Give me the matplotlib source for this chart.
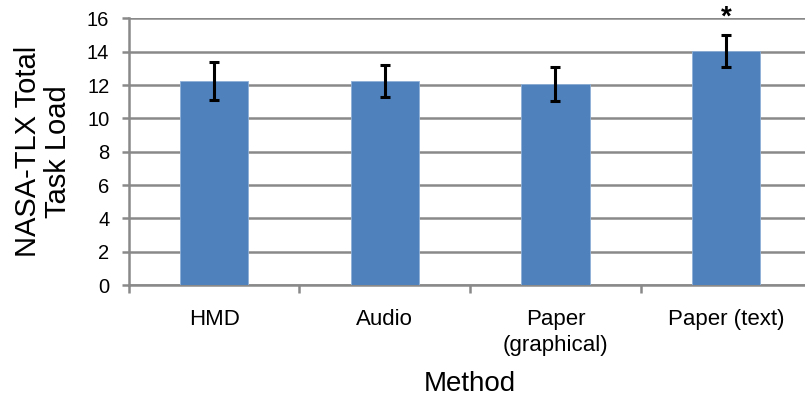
import matplotlib.pyplot as plt

plt.rcParams['font.family'] = ['Liberation Sans', 'DejaVu Sans']

methods = ['HMD', 'Audio', 'Paper\n(graphical)', 'Paper (text)']
task_load = [12.25, 12.25, 12.05, 14.05]
errors = [1.12, 0.95, 1.03, 0.98]
significant = [False, False, False, True]

grid_gray = '#898989'
bar_blue = '#4f81bd'

fig = plt.figure(figsize=(8.05, 4.01), dpi=100)
ax = fig.add_axes([0.160, 0.289, 0.848, 0.665])

x = range(len(methods))
ax.bar(x, task_load, width=0.4, color=bar_blue, edgecolor='#8fb0d8',
       linewidth=0.6, zorder=3)
ax.errorbar(x, task_load, yerr=errors, fmt='none', ecolor='black',
            elinewidth=2.2, capsize=3.5, capthick=2.2, zorder=4)

# significance marker above the bar
for xi, sig in zip(x, significant):
    if sig:
        ax.text(xi, 16.8, '*', ha='center', va='top', fontsize=20,
                fontweight='bold', clip_on=False)

ax.set_xlim(-0.5, 3.5)
ax.set_ylim(0, 16)
ax.set_yticks(range(0, 17, 2))
ax.yaxis.grid(True, color=grid_gray, linewidth=1.8, zorder=0)
ax.set_axisbelow(True)

# category labels sit between boundary ticks
ax.set_xticks([-0.5, 0.5, 1.5, 2.5, 3.5])
ax.set_xticklabels([])
ax.set_xticks(list(x), minor=True)
ax.set_xticklabels(methods, minor=True, fontsize=16, linespacing=1.3)
ax.tick_params(axis='x', which='minor', length=0, pad=17)
ax.tick_params(axis='x', which='major', length=6, width=1.8, color=grid_gray)
ax.tick_params(axis='y', length=5, width=1.8, color=grid_gray,
               labelsize=14.5, pad=9)

for side in ['top', 'right']:
    ax.spines[side].set_visible(False)
for side in ['left', 'bottom']:
    ax.spines[side].set_color(grid_gray)
    ax.spines[side].set_linewidth(1.8)

ax.set_ylabel('NASA-TLX Total\nTask Load', fontsize=21, labelpad=11,
              linespacing=1.1)
ax.set_xlabel('Method', fontsize=20, labelpad=11)

fig.savefig('out.png', dpi=100)
